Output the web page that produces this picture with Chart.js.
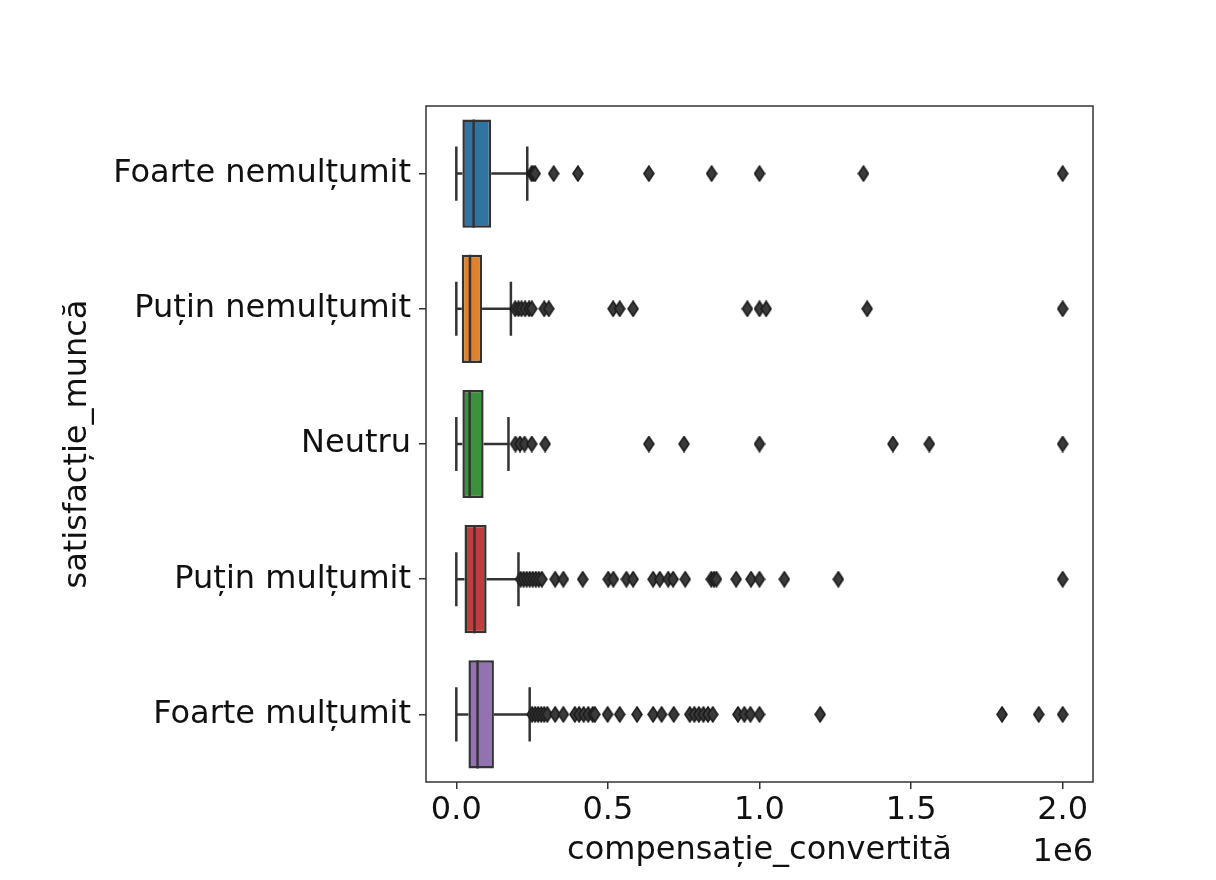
<!DOCTYPE html>
<html>
<head>
<meta charset="utf-8">
<script src="https://cdn.jsdelivr.net/npm/chart.js@4/dist/chart.umd.min.js"></script>
<style>
    body { margin: 0; background: #fff; }
    #wrap { width: 1216px; height: 880px; }
</style>
</head>
<body>
<div id="wrap"><canvas id="boxChart"></canvas></div>
<script>
// Categories (y axis, top to bottom)
const categories = ['Foarte nemulțumit', 'Puțin nemulțumit', 'Neutru', 'Puțin mulțumit', 'Foarte mulțumit'];

// Box statistics
const whiskerLow  = [0, 0, 0, 0, 0];
const q1          = [20000, 18000, 20000, 27000, 40000];
const median      = [57000, 45000, 44000, 60000, 70000];
const q3          = [115000, 85000, 90000, 100000, 124000];
const whiskerHigh = [234000, 180000, 172000, 205000, 242000];

// Outliers per category
const outliersFoarteNemultumit = [248000, 254000, 260000, 321000, 401000, 635000, 842000, 1000000, 1343000, 2000000];
const outliersPutinNemultumit = [194000, 205000, 215000, 227000, 240000, 249000, 290000, 305000, 517000, 539000, 583000, 960000, 1000000, 1022000, 1355000, 2000000];
const outliersNeutru = [195000, 210000, 225000, 249000, 293000, 635000, 751000, 1000000, 1440000, 1560000, 2000000];
const outliersPutinMultumit = [212000, 222000, 232000, 242000, 252000, 262000, 272000, 282000, 326000, 353000, 417000, 501000, 518000, 561000, 583000, 649000, 671000, 699000, 715000, 755000, 841000, 850000, 858000, 923000, 972000, 1000000, 1082000, 1260000, 2000000];
const outliersFoarteMultumit = [250000, 260000, 270000, 280000, 290000, 300000, 326000, 353000, 391000, 405000, 420000, 435000, 450000, 457000, 499000, 539000, 596000, 649000, 677000, 717000, 770000, 785000, 800000, 815000, 830000, 846000, 929000, 950000, 970000, 1000000, 1200000, 1800000, 1921000, 2000000];
const outliers = [outliersFoarteNemultumit, outliersPutinNemultumit, outliersNeutru, outliersPutinMultumit, outliersFoarteMultumit];

// X axis ticks
const xTicks = [0, 500000, 1000000, 1500000, 2000000];

const boxColors = ['#3274a1', '#e1812c', '#3a923a', '#c03d3e', '#9372b2'];
const lineColor = '#333333';
const fontFamily = "'DejaVu Sans', sans-serif";
const fontSize = 32;

// Thin diamond marker, like matplotlib 'd'
function thinDiamond(w, h) {
    const c = document.createElement('canvas');
    c.width = w + 2;
    c.height = h + 2;
    const g = c.getContext('2d');
    g.beginPath();
    g.moveTo(c.width / 2, 1);
    g.lineTo(c.width - 1, c.height / 2);
    g.lineTo(c.width / 2, c.height - 1);
    g.lineTo(1, c.height / 2);
    g.closePath();
    g.fillStyle = '#3a3a3a';
    g.fill();
    g.strokeStyle = '#1a1a1a';
    g.lineWidth = 1.5;
    g.stroke();
    return c;
}
const marker = thinDiamond(10, 15);

// Whiskers, caps, medians, frame and offset text
const boxExtras = {
    id: 'boxExtras',
    beforeDatasetsDraw(chart) {
        const {ctx, scales: {x, y}} = chart;
        const band = y.getPixelForValue(1) - y.getPixelForValue(0);
        const capHalf = band * 0.2;
        ctx.save();
        ctx.strokeStyle = lineColor;
        ctx.lineWidth = 2.5;
        categories.forEach((cat, i) => {
            const cy = y.getPixelForValue(i);
            const xl = x.getPixelForValue(whiskerLow[i]);
            const xh = x.getPixelForValue(whiskerHigh[i]);
            ctx.beginPath();
            ctx.moveTo(xl, cy); ctx.lineTo(x.getPixelForValue(q1[i]), cy);
            ctx.moveTo(x.getPixelForValue(q3[i]), cy); ctx.lineTo(xh, cy);
            ctx.moveTo(xl, cy - capHalf); ctx.lineTo(xl, cy + capHalf);
            ctx.moveTo(xh, cy - capHalf); ctx.lineTo(xh, cy + capHalf);
            ctx.stroke();
        });
        ctx.restore();
    },
    afterDatasetsDraw(chart) {
        const {ctx, chartArea, scales: {x, y}} = chart;
        const band = y.getPixelForValue(1) - y.getPixelForValue(0);
        const boxHalf = band * 0.4;
        ctx.save();
        ctx.strokeStyle = lineColor;
        ctx.lineWidth = 2.5;
        categories.forEach((cat, i) => {
            const cy = y.getPixelForValue(i);
            const xm = x.getPixelForValue(median[i]);
            ctx.beginPath();
            ctx.moveTo(xm, cy - boxHalf);
            ctx.lineTo(xm, cy + boxHalf);
            ctx.stroke();
        });
        // axes frame
        ctx.strokeStyle = '#333';
        ctx.lineWidth = 1.5;
        ctx.strokeRect(chartArea.left, chartArea.top, chartArea.right - chartArea.left, chartArea.bottom - chartArea.top);
        // offset text
        ctx.fillStyle = '#111';
        ctx.font = fontSize + 'px ' + fontFamily;
        ctx.textAlign = 'right';
        ctx.textBaseline = 'alphabetic';
        ctx.fillText('1e6', chartArea.right, 861);
        ctx.restore();
    }
};

const datasets = [{
    type: 'bar',
    label: 'box',
    data: categories.map((c, i) => [q1[i], q3[i]]),
    backgroundColor: boxColors,
    borderColor: lineColor,
    borderWidth: 2.5,
    borderSkipped: false,
    barPercentage: 0.8,
    categoryPercentage: 1.0
}];

outliers.forEach((list, i) => {
    datasets.push({
        type: 'scatter',
        label: categories[i],
        data: list.map(v => ({ x: v, y: categories[i] })),
        pointStyle: marker,
        pointRadius: 8,
        pointHoverRadius: 8
    });
});

const ctx = document.getElementById('boxChart').getContext('2d');
new Chart(ctx, {
    type: 'bar',
    data: {
        labels: categories,
        datasets: datasets
    },
    plugins: [boxExtras],
    options: {
        indexAxis: 'y',
        responsive: true,
        maintainAspectRatio: false,
        animation: false,
        layout: {
            padding: { left: 0, right: 123, top: 106, bottom: 0 }
        },
        plugins: {
            legend: { display: false },
            tooltip: { enabled: false }
        },
        scales: {
            x: {
                type: 'linear',
                min: -100000,
                max: 2100000,
                afterBuildTicks: scale => {
                    scale.ticks = xTicks.map(v => ({ value: v }));
                },
                afterFit: scale => { scale.height = 98; },
                border: { display: false },
                grid: {
                    drawOnChartArea: false,
                    drawTicks: true,
                    tickLength: 7,
                    color: '#333',
                    lineWidth: 1.5
                },
                ticks: {
                    autoSkip: false,
                    maxRotation: 0,
                    padding: 2,
                    color: '#111',
                    font: { family: fontFamily, size: fontSize },
                    callback: v => (v / 1e6).toFixed(1)
                },
                title: {
                    display: true,
                    text: 'compensație_convertită',
                    color: '#111',
                    font: { family: fontFamily, size: fontSize },
                    padding: { top: 0, bottom: 10 }
                }
            },
            y: {
                type: 'category',
                offset: true,
                afterFit: scale => { scale.width = 426; },
                border: { display: false },
                grid: {
                    offset: false,
                    drawOnChartArea: false,
                    drawTicks: true,
                    tickLength: 7,
                    color: '#333',
                    lineWidth: 1.5
                },
                ticks: {
                    padding: 8,
                    color: '#111',
                    font: { family: fontFamily, size: fontSize }
                },
                title: {
                    display: true,
                    text: 'satisfacție_muncă',
                    color: '#111',
                    font: { family: fontFamily, size: fontSize },
                    padding: { top: 58, bottom: 0 }
                }
            }
        }
    }
});
</script>
</body>
</html>
